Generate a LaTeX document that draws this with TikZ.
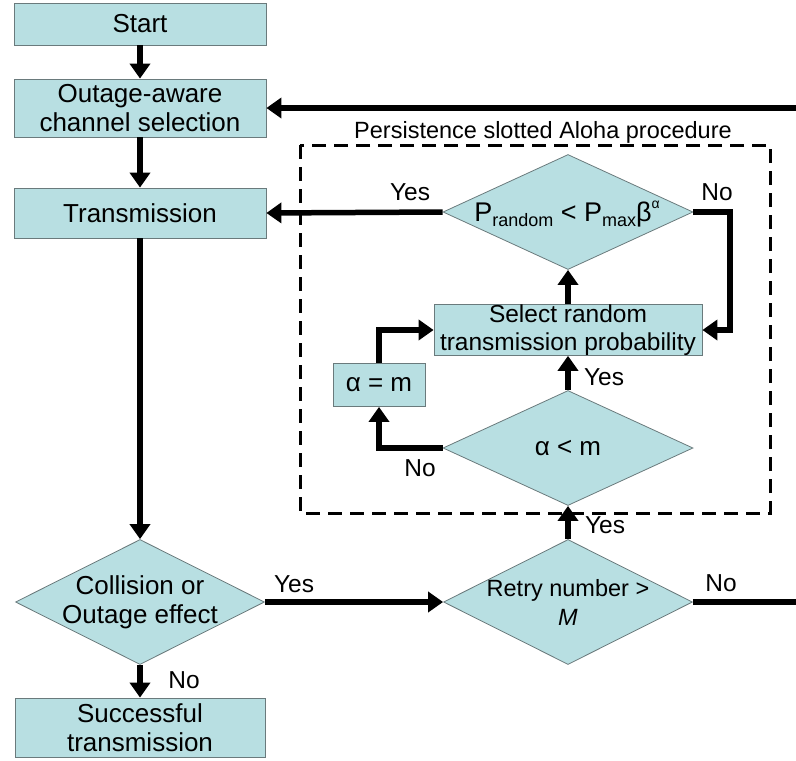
\documentclass[tikz,border=0pt]{standalone}
\usepackage{fontspec}
\setmainfont{Liberation Sans}
\usetikzlibrary{shapes.geometric,arrows.meta}
\definecolor{boxfill}{HTML}{B8DFE2}
\definecolor{boxline}{HTML}{6A7A7C}
\tikzset{
  box/.style={draw=boxline,line width=0.8pt,fill=boxfill,inner sep=0pt,align=center,font=\fontsize{26}{29}\selectfont},
  dia/.style={draw=boxline,line width=0.8pt,fill=boxfill,shape=diamond,inner sep=0pt,minimum width=250pt,minimum height=#1},
  txt/.style={align=center,inner sep=0pt,font=\fontsize{26}{29}\selectfont},
  lbl/.style={inner sep=0pt,font=\fontsize{24.5}{28}\selectfont},
  conn/.style={line width=5.5pt,-{Triangle[length=15pt,width=20pt]}},
}
\begin{document}
\begin{tikzpicture}[x=1pt,y=-1pt]
\useasboundingbox (0,0) rectangle (796,761);
% dashed frame
\draw[line width=3pt,dash pattern=on 14pt off 8pt] (300,145) rectangle (770,513);
\node[lbl,font=\fontsize{23.5}{27}\selectfont] (title) at (543,132) {Persistence slotted Aloha procedure};
% main column
\node[box,minimum width=252pt,minimum height=42pt] (start) at (140,24) {Start};
\node[box,minimum width=252pt,minimum height=58pt] (outage) at (140,108) {Outage-aware\\channel selection};
\node[box,minimum width=252pt,minimum height=50pt] (trans) at (140,213) {Transmission};
\node[dia=125pt,minimum width=249pt] (coll) at (140,602) {};
\node[txt] (collt) at (140,602) {Collision or\\Outage effect};
\node[box,minimum width=250pt,minimum height=59pt] (succ) at (140,727.5) {Successful\\transmission};
% right part
\node[dia=125pt,minimum width=249pt] (retry) at (568,602) {};
\node[txt,font=\fontsize{23.5}{29}\selectfont] (retryt) at (568,602) {Retry number >\\\textit{M}};
\node[dia=115pt] (pd) at (568,212) {};
\node[txt,font=\fontsize{27}{30}\selectfont] (pdt) at (567,214) {P\raisebox{-0.35ex}{\fontsize{18}{18}\selectfont random} < P\raisebox{-0.35ex}{\fontsize{18}{18}\selectfont max}β\raisebox{0.9ex}{\fontsize{14}{14}\selectfont α}};
\node[box,minimum width=268pt,minimum height=50pt,font=\fontsize{24.5}{28}\selectfont] (select) at (568,330) {Select random\\transmission probability};
\node[box,minimum width=92pt,minimum height=43pt] (am) at (379,385) {α = m};
\node[dia=115pt] (alm) at (568,448) {};
\node[txt] (almt) at (568,448) {α < m};
% connectors
\draw[conn] (start.south) -- (outage.north);
\draw[conn] (outage.south) -- (trans.north);
\draw[conn] (trans.south) -- (coll.north);
\draw[conn] (coll.south) -- (succ.north);
\draw[conn] (coll.east) -- (retry.west);
\draw[conn] (retry.north) -- (alm.south);
\draw[conn] (alm.north) -- (select.south);
\draw[conn] (alm.west) -| (am.south);
\draw[conn] (am.north) |- (select.west);
\draw[conn] (select.north) -- (pd.south);
\draw[conn] (pd.east) -- (730,212) |- (select.east);
\draw[conn] (pd.west) -- (trans.east);
\coordinate (farR) at (806,602);
\coordinate (farT) at (806,108);
\draw[conn] (retry.east) -- (farR) -- (farT) -- (outage.east);
% labels
\node[lbl] (l1) at (294,584) {Yes};
\node[lbl] (l2) at (184,680) {No};
\node[lbl] (l3) at (605,525) {Yes};
\node[lbl] (l4) at (604,377) {Yes};
\node[lbl] (l5) at (420,468) {No};
\node[lbl] (l6) at (410,192) {Yes};
\node[lbl] (l7) at (717,192) {No};
\node[lbl] (l8) at (721,583) {No};
\end{tikzpicture}
\end{document}
